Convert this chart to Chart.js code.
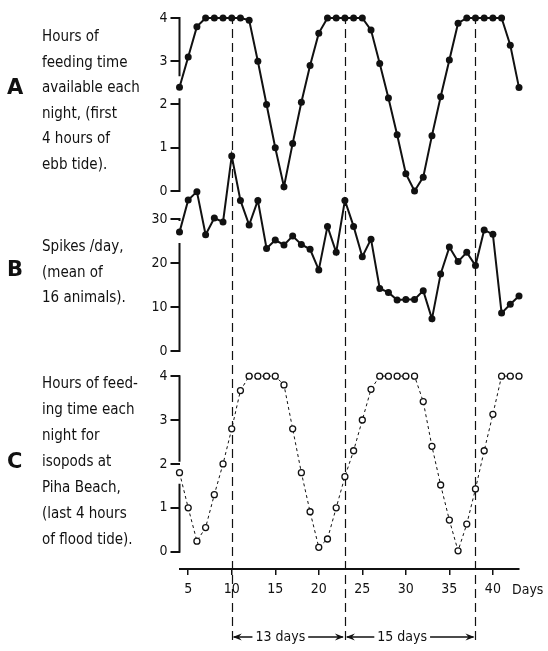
<!DOCTYPE html>
<html>
<head>
<meta charset="utf-8">
<script src="https://cdn.jsdelivr.net/npm/chart.js@4.4.0/dist/chart.umd.min.js"></script>
<style>
  html, body { margin: 0; padding: 0; background: #fff; }
  #wrap { position: relative; width: 548px; height: 651px; }
  #tideChart { position: absolute; left: 0; top: 0; }
  .panel-letter {
    position: absolute; left: 7px;
    font: bold 21px "DejaVu Sans", Arial, sans-serif; color: #111;
  }
  .panel-text {
    position: absolute; left: 42px;
    font: 15px "DejaVu Sans Condensed", "DejaVu Sans", sans-serif; color: #111;
    line-height: 25.5px; white-space: nowrap;
  }
</style>
</head>
<body>
<div id="wrap">
  <canvas id="tideChart" width="548" height="651"></canvas>

  <div class="panel-letter" style="top:75px">A</div>
  <div class="panel-text" style="top:24px">Hours of<br>feeding time<br>available each<br>night, (first<br>4 hours of<br>ebb tide).</div>

  <div class="panel-letter" style="top:257px">B</div>
  <div class="panel-text" style="top:234px">Spikes /day,<br>(mean of<br>16 animals).</div>

  <div class="panel-letter" style="top:449px">C</div>
  <div class="panel-text" style="top:370px; line-height:26px">Hours of feed-<br>ing time each<br>night for<br>isopods at<br>Piha Beach,<br>(last 4 hours<br>of flood tide).</div>
</div>

<script>
// Days of observation, one reading per night.
var days = [4, 5, 6, 7, 8, 9, 10, 11, 12, 13, 14, 15, 16, 17, 18, 19, 20, 21, 22, 23,
            24, 25, 26, 27, 28, 29, 30, 31, 32, 33, 34, 35, 36, 37, 38, 39, 40, 41, 42, 43];

// A: hours of feeding time available (first 4 h of ebb tide).
var ebbHours = [2.4, 3.1, 3.8, 4, 4, 4, 4, 4, 3.95, 3.0, 2.0, 1.0, 0.1, 1.1, 2.05, 2.9, 3.65, 4, 4, 4,
                4, 4, 3.72, 2.95, 2.15, 1.3, 0.4, 0, 0.32, 1.28, 2.18, 3.03, 3.88, 4, 4, 4, 4, 4, 3.37, 2.39];

// B: spikes per day, mean of 16 animals.
var spikesPerDay = [27, 34.3, 36.2, 26.4, 30.2, 29.3, 44.3, 34.2, 28.6, 34.2, 23.3, 25.2, 24.1, 26.1, 24.2, 23.1, 18.4, 28.3, 22.4, 34.2,
                    28.3, 21.4, 25.4, 14.2, 13.3, 11.6, 11.7, 11.7, 13.7, 7.3, 17.5, 23.6, 20.3, 22.4, 19.4, 27.5, 26.5, 8.6, 10.6, 12.5];

// C: hours of feeding time for isopods at Piha Beach (last 4 h of flood tide).
var floodHours = [1.8, 1.0, 0.24, 0.55, 1.3, 2.0, 2.8, 3.67, 4, 4, 4, 4, 3.8, 2.8, 1.8, 0.91, 0.1, 0.29, 1.0, 1.71,
                  2.3, 3.0, 3.7, 4, 4, 4, 4, 4, 3.42, 2.4, 1.52, 0.72, 0.02, 0.63, 1.43, 2.3, 3.13, 4, 4, 4];

// Tick labels.
var dayTicks = [5, 10, 15, 20, 25, 30, 35, 40];
var hourTicks = [0, 1, 2, 3, 4];
var spikeTicks = [0, 10, 20, 30];

// Days marked with the vertical dashed lines.
var markDays = [10, 23, 38];

var FONT = '"DejaVu Sans Condensed", "DejaVu Sans", sans-serif';
var INK = "#111";

function points(values) {
    return days.map(function (d, i) { return { x: d, y: values[i] }; });
}

function fixedTicks(list) {
    return function (scale) {
        scale.ticks = list.map(function (v) { return { value: v }; });
    };
}

function panelAxis(list, min, max, weight) {
    return {
        type: "linear",
        position: "left",
        stack: "panels",
        stackWeight: weight,
        min: min,
        max: max,
        afterBuildTicks: fixedTicks(list),
        afterFit: function (scale) { scale.width = 30; },
        border: { display: false },
        grid: { drawOnChartArea: false, drawTicks: true, tickLength: 9, lineWidth: 2, color: INK },
        ticks: { color: INK, padding: 3, font: { family: FONT, size: 14 } }
    };
}

// Axis brackets, dashed day markers and the interval arrows.
var decorations = {
    id: "decorations",
    beforeDatasetsDraw: function (chart) {
        var ctx = chart.ctx;
        var x = chart.scales.x;
        var area = chart.chartArea;
        var top = chart.scales.yA.getPixelForValue(4) - 3;
        var bottom = area.bottom + 72;

        ctx.save();
        ctx.strokeStyle = INK;
        ctx.lineWidth = 1.2;
        ctx.setLineDash([9, 5]);
        markDays.forEach(function (d) {
            var px = Math.round(x.getPixelForValue(d)) + 0.5;
            ctx.beginPath();
            ctx.moveTo(px, top);
            ctx.lineTo(px, bottom);
            ctx.stroke();
        });
        ctx.restore();
    },
    afterDraw: function (chart) {
        var ctx = chart.ctx;
        var x = chart.scales.x;
        var area = chart.chartArea;

        // vertical axis brackets, broken where the first reading sits on them
        var brackets = [["yA", hourTicks, ebbHours], ["yB", spikeTicks, spikesPerDay], ["yC", hourTicks, floodHours]];
        ctx.save();
        ctx.strokeStyle = INK;
        ctx.lineWidth = 2;
        brackets.forEach(function (b) {
            var s = chart.scales[b[0]];
            var y0 = s.getPixelForValue(b[1][b[1].length - 1]);
            var y1 = s.getPixelForValue(b[1][0]);
            var yp = s.getPixelForValue(b[2][0]);
            var ax = area.left;
            ctx.beginPath();
            ctx.moveTo(ax, y0 - 1);
            ctx.lineTo(ax, Math.max(y0, yp - 11));
            ctx.moveTo(ax, Math.min(y1, yp + 11));
            ctx.lineTo(ax, y1 + 1);
            ctx.stroke();
        });

        // unit label after the last day tick
        ctx.fillStyle = INK;
        ctx.font = "14px " + FONT;
        ctx.textAlign = "left";
        ctx.textBaseline = "middle";
        ctx.fillText("Days", area.right - 7, area.bottom + 21);

        // interval arrows between the marked days
        var ay = area.bottom + 68;
        ctx.lineWidth = 1.3;
        for (var i = 0; i + 1 < markDays.length; ++i) {
            var x1 = x.getPixelForValue(markDays[i]);
            var x2 = x.getPixelForValue(markDays[i + 1]);
            var label = (markDays[i + 1] - markDays[i]) + " days";
            var w = ctx.measureText(label).width;
            var cx = (x1 + x2) / 2 - 8;
            ctx.textAlign = "center";
            ctx.fillText(label, cx, ay);
            ctx.beginPath();
            ctx.moveTo(x1 + 2, ay);
            ctx.lineTo(cx - w / 2 - 3, ay);
            ctx.moveTo(cx + w / 2 + 3, ay);
            ctx.lineTo(x2 - 2, ay);
            ctx.stroke();
            arrowHead(ctx, x1 + 1, ay, -1);
            arrowHead(ctx, x2 - 1, ay, 1);
        }
        ctx.restore();
    }
};

function arrowHead(ctx, tipX, y, dir) {
    ctx.beginPath();
    ctx.moveTo(tipX, y);
    ctx.lineTo(tipX - dir * 9, y - 3.5);
    ctx.lineTo(tipX - dir * 6, y);
    ctx.lineTo(tipX - dir * 9, y + 3.5);
    ctx.closePath();
    ctx.fill();
}

var config = {
    type: "line",
    data: {
        datasets: [{
            data: points(ebbHours),
            yAxisID: "yA",
            clip: false,
            borderColor: INK,
            borderWidth: 2,
            pointRadius: 3.5,
            pointBackgroundColor: INK,
            pointBorderWidth: 0
        }, {
            data: points(spikesPerDay),
            yAxisID: "yB",
            clip: false,
            borderColor: INK,
            borderWidth: 2,
            pointRadius: 3.5,
            pointBackgroundColor: INK,
            pointBorderWidth: 0
        }, {
            data: points(floodHours),
            yAxisID: "yC",
            clip: false,
            borderColor: INK,
            borderWidth: 1,
            borderDash: [3, 3],
            pointRadius: 3,
            pointBackgroundColor: "#fff",
            pointBorderColor: INK,
            pointBorderWidth: 1.3
        }]
    },
    options: {
        responsive: false,
        animation: false,
        events: [],
        layout: { padding: { top: 11.5, left: 149.5, right: 29, bottom: 52 } },
        plugins: { legend: { display: false }, tooltip: { enabled: false } },
        scales: {
            x: {
                type: "linear",
                min: 4,
                max: 43,
                afterBuildTicks: fixedTicks(dayTicks),
                afterFit: function (scale) { scale.height = 30; },
                border: { display: true, color: INK, width: 2 },
                grid: { drawOnChartArea: false, drawTicks: true, tickLength: 6, lineWidth: 1.5, color: INK },
                ticks: { color: INK, padding: 6, maxRotation: 0, font: { family: FONT, size: 14 } }
            },
            // left-hand stacked axes are laid out last-first, so the bottom panel comes first
            yC: panelAxis(hourTicks, -0.394, 4.3, 206),
            yB: panelAxis(spikeTicks, -2.73, 33.2, 158.1),
            yA: panelAxis(hourTicks, -0.32, 4.15, 193.3)
        }
    },
    plugins: [decorations]
};

new Chart(document.getElementById("tideChart").getContext("2d"), config);
</script>
</body>
</html>
